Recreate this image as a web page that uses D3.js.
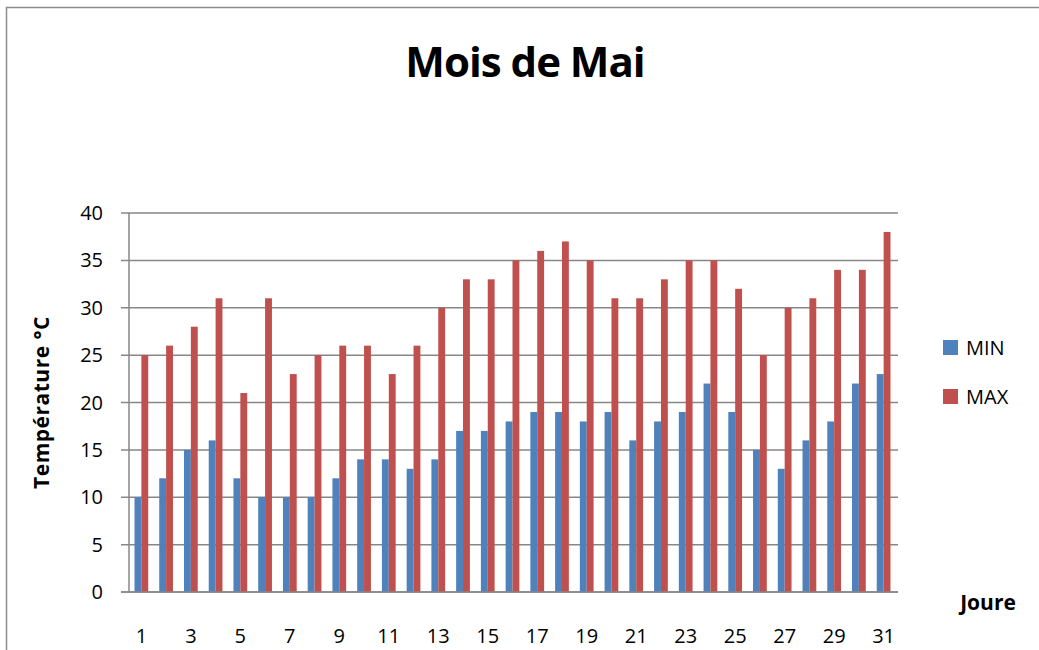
<!DOCTYPE html>
<html>
<head>
<meta charset="utf-8">
<script src="https://cdn.jsdelivr.net/npm/d3@7"></script>
<style>
  body { margin: 0; background: #fff; }
  text { font-family: "Open Sans", "Liberation Sans", sans-serif; }
</style>
</head>
<body>
<div id="chart"></div>
<script>
var days = d3.range(1, 32);
var minTemps = [10, 12, 15, 16, 12, 10, 10, 10, 12, 14, 14, 13, 14, 17, 17, 18, 19, 19, 18, 19, 16, 18, 19, 22, 19, 15, 13, 16, 18, 22, 23];
var maxTemps = [25, 26, 28, 31, 21, 31, 23, 25, 26, 26, 23, 26, 30, 33, 33, 35, 36, 37, 35, 31, 31, 33, 35, 35, 32, 25, 30, 31, 34, 34, 38];
var seriesNames = ["MIN", "MAX"];
var seriesColors = ["#4F81BD", "#C0504D"];
var yTicks = [0, 5, 10, 15, 20, 25, 30, 35, 40];

var W = 1039, H = 650;
var margin = {top: 213, right: 143, bottom: 58, left: 129},
    width = W - margin.left - margin.right,
    height = H - margin.top - margin.bottom;

var svg = d3.select("#chart").append("svg")
    .attr("width", W)
    .attr("height", H);

// outer frame
svg.append("rect")
    .attr("x", 6.5).attr("y", 7.5)
    .attr("width", W + 10).attr("height", H + 10)
    .attr("fill", "none")
    .attr("stroke", "#8c8c8c")
    .attr("stroke-width", 1.5);

svg.append("text")
    .attr("x", 525).attr("y", 77)
    .attr("text-anchor", "middle")
    .attr("font-size", 42)
    .attr("font-weight", "bold")
    .attr("letter-spacing", -1)
    .text("Mois de Mai");

var g = svg.append("g")
    .attr("transform", "translate(" + margin.left + "," + margin.top + ")");

var x = d3.scaleBand()
    .domain(days)
    .range([0, width])
    .padding(0);

var xs = d3.scaleBand()
    .domain(seriesNames)
    .range([0, x.bandwidth()])
    .paddingInner(0)
    .paddingOuter(0.8);

var y = d3.scaleLinear()
    .domain([0, 40])
    .range([height, 0]);

// gridlines + ticks
g.selectAll(".grid")
    .data(yTicks)
  .enter().append("line")
    .attr("class", "grid")
    .attr("x1", -8).attr("x2", width + 2)
    .attr("y1", function(d) { return y(d); })
    .attr("y2", function(d) { return y(d); })
    .attr("stroke", "#878787")
    .attr("stroke-width", 1.5);

g.selectAll(".ylab")
    .data(yTicks)
  .enter().append("text")
    .attr("class", "ylab")
    .attr("x", -26)
    .attr("y", function(d) { return y(d); })
    .attr("dy", "0.35em")
    .attr("text-anchor", "end")
    .attr("font-size", 20)
    .text(function(d) { return d; });

var rows = days.map(function(d, i) {
  return {day: d, values: [minTemps[i], maxTemps[i]]};
});

var groups = g.selectAll(".day")
    .data(rows)
  .enter().append("g")
    .attr("class", "day")
    .attr("transform", function(d) { return "translate(" + x(d.day) + ",0)"; });

groups.selectAll("rect")
    .data(function(d) {
      return d.values.map(function(v, k) { return {key: seriesNames[k], value: v, color: seriesColors[k]}; });
    })
  .enter().append("rect")
    .attr("x", function(d) { return xs(d.key); })
    .attr("width", xs.bandwidth())
    .attr("y", function(d) { return y(d.value); })
    .attr("height", function(d) { return height - y(d.value); })
    .attr("fill", function(d) { return d.color; });

// axes lines
g.append("line")
    .attr("x1", 0).attr("x2", 0)
    .attr("y1", 0).attr("y2", height)
    .attr("stroke", "#878787").attr("stroke-width", 1.5);
g.append("line")
    .attr("x1", -8).attr("x2", width + 2)
    .attr("y1", height).attr("y2", height)
    .attr("stroke", "#878787").attr("stroke-width", 1.5);

g.selectAll(".xlab")
    .data(days.filter(function(d) { return d % 2 == 1; }))
  .enter().append("text")
    .attr("class", "xlab")
    .attr("x", function(d) { return x(d) + x.bandwidth() / 2; })
    .attr("y", height + 44)
    .attr("dy", "0.35em")
    .attr("text-anchor", "middle")
    .attr("font-size", 20)
    .text(function(d) { return d; });

svg.append("text")
    .attr("transform", "translate(49," + (margin.top + height / 2) + ") rotate(-90)")
    .attr("text-anchor", "middle")
    .attr("font-size", 21)
    .attr("font-weight", "bold")
    .attr("letter-spacing", 0.5)
    .text("Température °C");

svg.append("text")
    .attr("x", 988).attr("y", 610)
    .attr("text-anchor", "middle")
    .attr("font-size", 21)
    .attr("font-weight", "bold")
    .text("Joure");

// legend
var legend = svg.selectAll(".legend")
    .data(seriesNames)
  .enter().append("g")
    .attr("class", "legend")
    .attr("transform", function(d, i) { return "translate(943," + (340 + i * 49) + ")"; });

legend.append("rect")
    .attr("width", 15).attr("height", 15)
    .attr("fill", function(d, i) { return seriesColors[i]; });

legend.append("text")
    .attr("x", 23).attr("y", 8)
    .attr("dy", "0.35em")
    .attr("font-size", 20)
    .text(function(d) { return d; });
</script>
</body>
</html>
